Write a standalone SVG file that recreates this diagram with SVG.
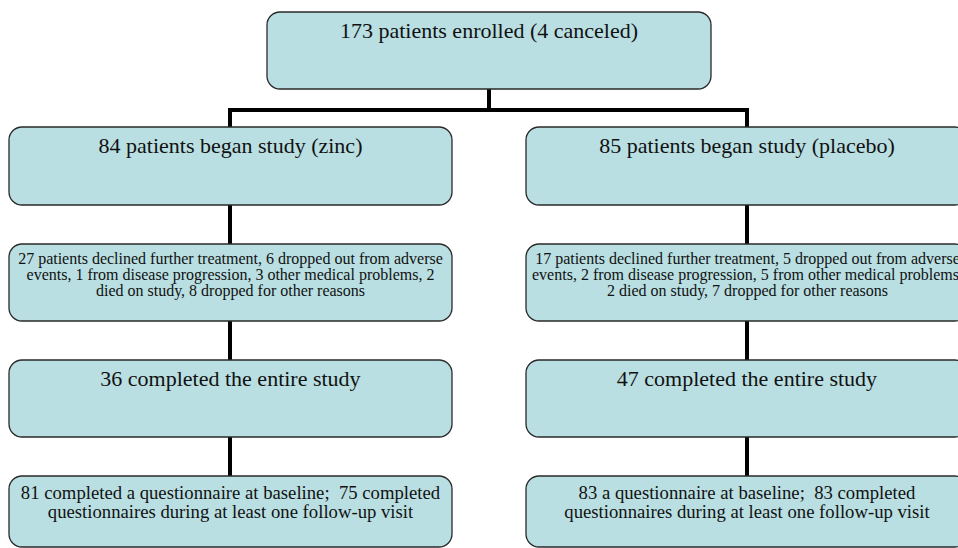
<svg xmlns="http://www.w3.org/2000/svg" width="958" height="548" viewBox="0 0 958 548">
<style>
.box{fill:#b9dfe2;stroke:#2a2a2a;stroke-width:1.3}
.t{font-family:"Liberation Serif","Times New Roman",serif;fill:#111;text-anchor:middle;white-space:pre}
.big{font-size:22px}
.mid{font-size:18.7px}
.sm{font-size:16px}
.c{stroke:#000;stroke-width:4;fill:none}
</style>
<rect width="958" height="548" fill="#fff"/>
<g id="connectors">
<line class="c" x1="489" y1="89" x2="489" y2="110"/>
<line class="c" x1="228" y1="110" x2="749" y2="110"/>
<line class="c" x1="230" y1="110" x2="230" y2="127"/>
<line class="c" x1="747" y1="110" x2="747" y2="127"/>
<line class="c" x1="230" y1="205" x2="230" y2="244"/>
<line class="c" x1="747" y1="205" x2="747" y2="244"/>
<line class="c" x1="230" y1="321" x2="230" y2="360"/>
<line class="c" x1="747" y1="321" x2="747" y2="360"/>
<line class="c" x1="230" y1="437" x2="230" y2="476"/>
<line class="c" x1="747" y1="437" x2="747" y2="476"/>
</g>
<g id="enrolled">
<rect class="box" x="267" y="12" width="444" height="77" rx="13"/>
<text class="t big" x="489" y="38">173 patients enrolled (4 canceled)</text>
</g>
<g id="zinc">
<rect class="box" x="9" y="127" width="443" height="78" rx="13"/>
<text class="t big" x="230.5" y="153">84 patients began study (zinc)</text>
</g>
<g id="placebo">
<rect class="box" x="526" y="127" width="442" height="78" rx="13"/>
<text class="t big" x="747" y="153">85 patients began study (placebo)</text>
</g>
<g id="zinc-dropout">
<rect class="box" x="9" y="244" width="443" height="77" rx="13"/>
<text class="t sm" x="230.5" y="264">27 patients declined further treatment, 6 dropped out from adverse</text>
<text class="t sm" x="230.5" y="280">events, 1 from disease progression, 3 other medical problems, 2</text>
<text class="t sm" x="230.5" y="296">died on study, 8 dropped for other reasons</text>
</g>
<g id="placebo-dropout">
<rect class="box" x="526" y="244" width="442" height="77" rx="13"/>
<text class="t sm" x="747.5" y="264">17 patients declined further treatment, 5 dropped out from adverse</text>
<text class="t sm" x="747.5" y="280">events, 2 from disease progression, 5 from other medical problems,</text>
<text class="t sm" x="747.5" y="296">2 died on study, 7 dropped for other reasons</text>
</g>
<g id="zinc-completed">
<rect class="box" x="9" y="360" width="443" height="77" rx="13"/>
<text class="t big" x="230.5" y="386">36 completed the entire study</text>
</g>
<g id="placebo-completed">
<rect class="box" x="526" y="360" width="442" height="77" rx="13"/>
<text class="t big" x="747" y="386">47 completed the entire study</text>
</g>
<g id="zinc-questionnaire">
<rect class="box" x="9" y="476" width="443" height="71" rx="13"/>
<text class="t mid" x="230.5" y="499">81 completed a questionnaire at baseline;  75 completed</text>
<text class="t mid" x="230.5" y="518">questionnaires during at least one follow-up visit</text>
</g>
<g id="placebo-questionnaire">
<rect class="box" x="526" y="476" width="442" height="71" rx="13"/>
<text class="t mid" x="747" y="499">83 a questionnaire at baseline;  83 completed</text>
<text class="t mid" x="747" y="518">questionnaires during at least one follow-up visit</text>
</g>
</svg>
